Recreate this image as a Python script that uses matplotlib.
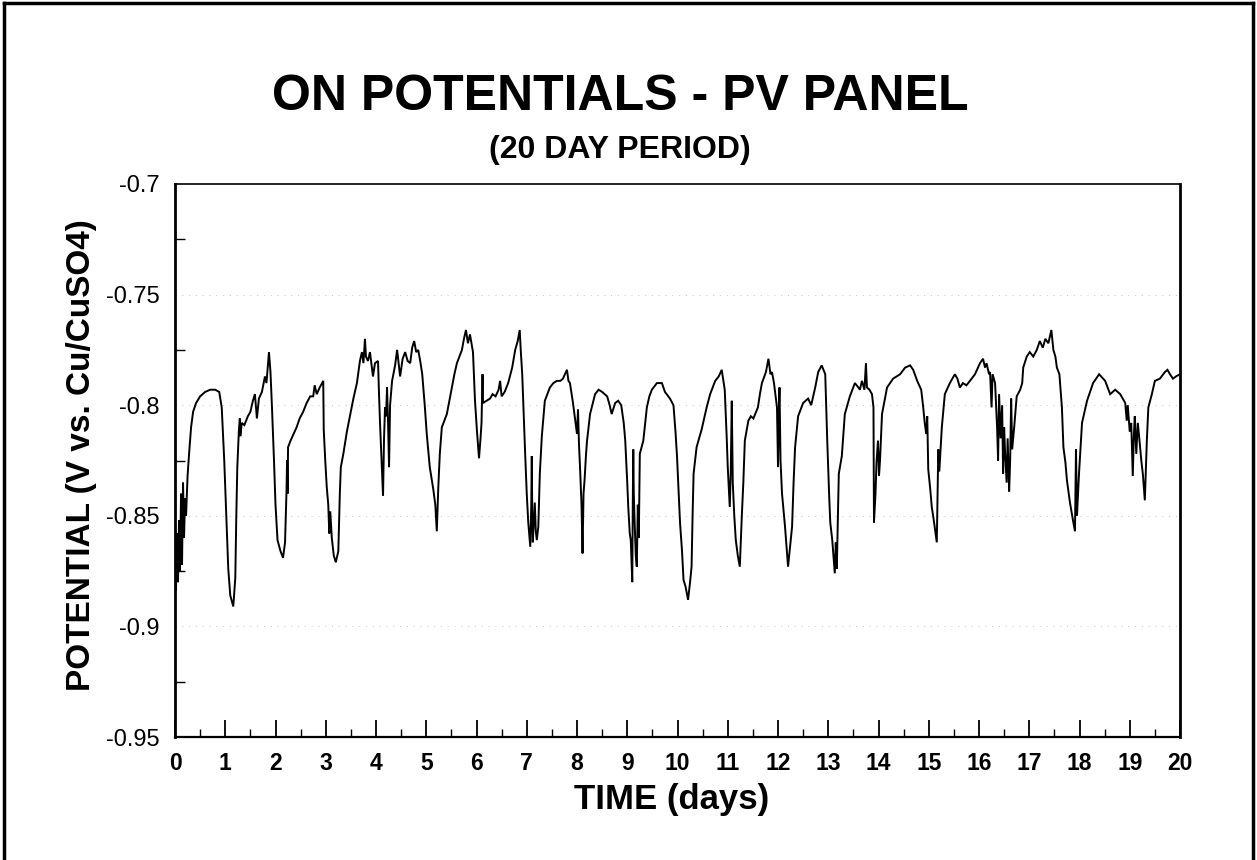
import matplotlib
matplotlib.use("Agg")
import matplotlib.pyplot as plt
from matplotlib.lines import Line2D
from matplotlib.ticker import MultipleLocator, FixedLocator

plt.rcParams['font.family'] = ['Liberation Sans', 'DejaVu Sans']

title = "ON POTENTIALS - PV PANEL"
subtitle = "(20 DAY PERIOD)"
xlabel = "TIME (days)"
ylabel = "POTENTIAL (V vs. Cu/CuSO4)"

x_ticks = list(range(0, 21))
y_ticks = [-0.95, -0.9, -0.85, -0.8, -0.75, -0.7]
y_tick_labels = ["-0.95", "-0.9", "-0.85", "-0.8", "-0.75", "-0.7"]

days = [
    0.00, 0.02, 0.04, 0.06, 0.08, 0.10, 0.12, 0.14, 0.16, 0.18, 0.20, 0.22, 0.25, 0.28, 0.32, 0.36, 0.42, 0.50,
    0.60, 0.70, 0.80, 0.88, 0.93, 0.98, 1.02, 1.06, 1.10, 1.16, 1.20, 1.22, 1.24, 1.27, 1.29, 1.30, 1.33, 1.38,
    1.45, 1.50, 1.55, 1.59, 1.63, 1.67, 1.73, 1.79, 1.82, 1.87, 1.90, 1.93, 1.97, 2.00, 2.04, 2.10, 2.15, 2.19,
    2.21, 2.22, 2.23, 2.24, 2.25, 2.30, 2.36, 2.42, 2.48, 2.55, 2.62, 2.69, 2.75, 2.78, 2.82, 2.88, 2.95, 2.96,
    2.99, 3.02, 3.05, 3.07, 3.09, 3.12, 3.16, 3.20, 3.25, 3.28, 3.30, 3.35, 3.42, 3.48, 3.55, 3.62, 3.68, 3.72,
    3.75, 3.78, 3.80, 3.84, 3.88, 3.94, 3.98, 4.04, 4.06, 4.08, 4.11, 4.14, 4.16, 4.18, 4.20, 4.22, 4.24, 4.26,
    4.28, 4.32, 4.38, 4.42, 4.46, 4.48, 4.53, 4.58, 4.63, 4.68, 4.72, 4.76, 4.80, 4.84, 4.88, 4.92, 4.97, 5.01,
    5.07, 5.14, 5.18, 5.21, 5.24, 5.27, 5.31, 5.36, 5.41, 5.46, 5.51, 5.56, 5.61, 5.66, 5.71, 5.75, 5.79, 5.83,
    5.87, 5.93, 5.97, 6.01, 6.05, 6.08, 6.10, 6.12, 6.13, 6.20, 6.27, 6.32, 6.38, 6.44, 6.47, 6.50, 6.56, 6.63,
    6.71, 6.77, 6.82, 6.86, 6.88, 6.91, 6.94, 6.97, 7.00, 7.03, 7.07, 7.09, 7.10, 7.11, 7.12, 7.16, 7.18, 7.20,
    7.23, 7.26, 7.30, 7.36, 7.46, 7.53, 7.60, 7.67, 7.72, 7.80, 7.83, 7.86, 7.92, 7.97, 8.00, 8.02, 8.04, 8.06,
    8.09, 8.11, 8.13, 8.15, 8.18, 8.20, 8.26, 8.36, 8.43, 8.50, 8.60, 8.65, 8.69, 8.76, 8.82, 8.88, 8.93, 8.96,
    9.00, 9.02, 9.05, 9.07, 9.10, 9.11, 9.12, 9.13, 9.15, 9.17, 9.19, 9.21, 9.23, 9.25, 9.32, 9.39, 9.44, 9.49,
    9.59, 9.69, 9.75, 9.85, 9.92, 9.96, 9.99, 10.05, 10.09, 10.12, 10.16, 10.21, 10.25, 10.28, 10.30, 10.32,
    10.38, 10.48, 10.58, 10.65, 10.70, 10.75, 10.82, 10.88, 10.94, 10.98, 11.00, 11.04, 11.06, 11.08, 11.10,
    11.13, 11.16, 11.20, 11.24, 11.28, 11.31, 11.34, 11.41, 11.46, 11.51, 11.60, 11.64, 11.68, 11.76, 11.81,
    11.85, 11.88, 11.92, 11.98, 12.00, 12.02, 12.03, 12.05, 12.08, 12.14, 12.20, 12.25, 12.28, 12.31, 12.34,
    12.40, 12.50, 12.60, 12.66, 12.74, 12.80, 12.87, 12.94, 12.98, 13.02, 13.04, 13.08, 13.13, 13.15, 13.17,
    13.21, 13.27, 13.33, 13.43, 13.53, 13.60, 13.63, 13.67, 13.72, 13.75, 13.77, 13.82, 13.87, 13.90, 13.91,
    13.94, 13.96, 13.99, 14.01, 14.03, 14.07, 14.17, 14.29, 14.43, 14.53, 14.63, 14.69, 14.77, 14.85, 14.89,
    14.92, 14.95, 14.97, 14.99, 15.03, 15.06, 15.10, 15.16, 15.19, 15.21, 15.26, 15.32, 15.42, 15.52, 15.57,
    15.62, 15.68, 15.75, 15.82, 15.92, 16.02, 16.08, 16.12, 16.15, 16.20, 16.22, 16.25, 16.27, 16.32, 16.36,
    16.38, 16.40, 16.43, 16.46, 16.48, 16.50, 16.52, 16.55, 16.57, 16.60, 16.62, 16.64, 16.66, 16.70, 16.75,
    16.82, 16.86, 16.88, 16.95, 17.01, 17.08, 17.15, 17.21, 17.27, 17.32, 17.38, 17.44, 17.48, 17.52, 17.55,
    17.60, 17.65, 17.68, 17.72, 17.75, 17.81, 17.87, 17.91, 17.93, 17.95, 17.97, 17.99, 18.03, 18.05, 18.15,
    18.27, 18.39, 18.51, 18.61, 18.71, 18.81, 18.91, 18.94, 18.96, 19.00, 19.03, 19.06, 19.08, 19.10, 19.13,
    19.16, 19.19, 19.23, 19.26, 19.30, 19.34, 19.37, 19.44, 19.50, 19.60, 19.70, 19.75, 19.80, 19.86, 19.92,
    20.00,
]

potential = [
    -0.862, -0.884, -0.858, -0.880, -0.852, -0.875, -0.840, -0.872, -0.835, -0.860, -0.842, -0.850, -0.832, -0.822, -0.810, -0.803, -0.799, -0.796,
    -0.794, -0.793, -0.793, -0.794, -0.801, -0.825, -0.850, -0.874, -0.886, -0.891, -0.878, -0.850, -0.828, -0.812, -0.806, -0.814, -0.808, -0.809,
    -0.805, -0.803, -0.798, -0.795, -0.806, -0.797, -0.794, -0.787, -0.790, -0.776, -0.785, -0.801, -0.825, -0.845, -0.861, -0.866, -0.869, -0.862,
    -0.845, -0.838, -0.825, -0.840, -0.819, -0.816, -0.813, -0.810, -0.806, -0.803, -0.799, -0.796, -0.796, -0.791, -0.795, -0.792, -0.789, -0.811,
    -0.825, -0.837, -0.845, -0.858, -0.848, -0.860, -0.868, -0.871, -0.866, -0.840, -0.828, -0.822, -0.812, -0.805, -0.797, -0.790, -0.780, -0.776,
    -0.781, -0.770, -0.778, -0.780, -0.776, -0.787, -0.781, -0.780, -0.795, -0.808, -0.825, -0.841, -0.815, -0.801, -0.805, -0.792, -0.808, -0.828,
    -0.800, -0.789, -0.782, -0.775, -0.783, -0.787, -0.779, -0.776, -0.780, -0.781, -0.774, -0.771, -0.776, -0.775, -0.780, -0.786, -0.800, -0.813,
    -0.828, -0.838, -0.845, -0.857, -0.837, -0.822, -0.810, -0.807, -0.804, -0.798, -0.792, -0.786, -0.781, -0.778, -0.775, -0.770, -0.766, -0.772,
    -0.768, -0.776, -0.798, -0.812, -0.824, -0.815, -0.808, -0.786, -0.799, -0.798, -0.797, -0.795, -0.796, -0.793, -0.789, -0.796, -0.794, -0.790,
    -0.783, -0.775, -0.771, -0.766, -0.775, -0.786, -0.805, -0.823, -0.840, -0.853, -0.864, -0.845, -0.823, -0.850, -0.862, -0.844, -0.857, -0.861,
    -0.855, -0.831, -0.814, -0.798, -0.792, -0.790, -0.789, -0.789, -0.788, -0.784, -0.789, -0.790, -0.799, -0.808, -0.813, -0.802, -0.818, -0.828,
    -0.845, -0.867, -0.840, -0.834, -0.822, -0.816, -0.804, -0.795, -0.793, -0.794, -0.796, -0.800, -0.804, -0.799, -0.798, -0.800, -0.808, -0.816,
    -0.835, -0.846, -0.858, -0.861, -0.880, -0.845, -0.820, -0.840, -0.855, -0.868, -0.873, -0.845, -0.860, -0.822, -0.816, -0.801, -0.796, -0.793,
    -0.790, -0.790, -0.794, -0.797, -0.800, -0.812, -0.823, -0.853, -0.866, -0.879, -0.882, -0.888, -0.880, -0.873, -0.850, -0.831,
    -0.819, -0.811, -0.801, -0.795, -0.792, -0.789, -0.787, -0.784, -0.793, -0.815, -0.828, -0.846, -0.830, -0.798, -0.835,
    -0.850, -0.861, -0.868, -0.873, -0.850, -0.835, -0.816, -0.807, -0.805, -0.806, -0.801, -0.795, -0.790, -0.785, -0.779,
    -0.786, -0.785, -0.790, -0.801, -0.828, -0.800, -0.792, -0.825, -0.840, -0.855, -0.873, -0.862, -0.855, -0.835, -0.819,
    -0.805, -0.799, -0.797, -0.800, -0.792, -0.785, -0.782, -0.786, -0.816, -0.842, -0.853, -0.861, -0.876, -0.862, -0.874,
    -0.831, -0.823, -0.804, -0.796, -0.790, -0.792, -0.793, -0.789, -0.793, -0.781, -0.792, -0.793, -0.795, -0.801, -0.853,
    -0.840, -0.826, -0.816, -0.832, -0.825, -0.804, -0.792, -0.788, -0.786, -0.783, -0.782, -0.784, -0.789, -0.793, -0.801,
    -0.808, -0.813, -0.805, -0.829, -0.838, -0.846, -0.852, -0.862, -0.820, -0.830, -0.810, -0.795, -0.790, -0.786, -0.788,
    -0.792, -0.790, -0.791, -0.789, -0.786, -0.781, -0.779, -0.783, -0.781, -0.786, -0.785, -0.801, -0.786, -0.790, -0.810,
    -0.825, -0.795, -0.815, -0.800, -0.831, -0.810, -0.822, -0.835, -0.815, -0.839, -0.825, -0.797, -0.820, -0.810, -0.796,
    -0.793, -0.790, -0.783, -0.778, -0.776, -0.778, -0.775, -0.771, -0.774, -0.770, -0.772, -0.766, -0.775, -0.778, -0.783,
    -0.786, -0.801, -0.819, -0.826, -0.834, -0.844, -0.852, -0.857, -0.820, -0.850, -0.840, -0.831, -0.816, -0.808, -0.798,
    -0.790, -0.786, -0.789, -0.795, -0.793, -0.795, -0.799, -0.807, -0.800, -0.812, -0.808, -0.832, -0.815, -0.805, -0.822,
    -0.808, -0.815, -0.825, -0.831, -0.843, -0.816, -0.801, -0.795, -0.789, -0.788, -0.785, -0.784, -0.786, -0.788, -0.787,
    -0.786,
]

W, H = 1257, 860
fig = plt.figure(figsize=(W / 100, H / 100), dpi=100)
fig.patch.set_facecolor("white")

# axes placement (pixel box 175..1180 x 184..737)
ax = fig.add_axes([175 / W, 1 - 737 / H, (1180 - 175) / W, (737 - 184) / H])
ax.plot(days, potential, color="black", linewidth=1.4, solid_joinstyle="miter")

ax.set_xlim(0, 20)
ax.set_ylim(-0.95, -0.7)

ax.xaxis.set_major_locator(FixedLocator(x_ticks))
ax.xaxis.set_minor_locator(MultipleLocator(0.5))
ax.set_xticklabels([str(t) for t in x_ticks])
ax.yaxis.set_major_locator(FixedLocator(y_ticks))
ax.set_yticklabels(y_tick_labels)
ax.yaxis.set_minor_locator(MultipleLocator(0.025))

ax.tick_params(axis="x", which="major", direction="in", length=12, width=1.3,
               labelsize=16.5, pad=11, top=False)
ax.tick_params(axis="x", which="minor", direction="in", length=6, width=1.0, top=False)
ax.tick_params(axis="y", which="major", direction="in", length=0, labelsize=17, pad=11, right=False)
ax.tick_params(axis="y", which="minor", direction="in", length=7, width=1.0, right=False)
for lab in ax.get_xticklabels():
    lab.set_fontweight("bold")

for y in y_ticks[1:-1]:
    ax.axhline(y, color="#c8c8c8", linewidth=0.7, linestyle=(0, (1, 6)), zorder=0)

ax.spines["left"].set_linewidth(2.0)
ax.spines["bottom"].set_linewidth(1.6)
ax.spines["top"].set_linewidth(1.2)
ax.spines["right"].set_linewidth(2.0)

fig.text(672 / W, 1 - 800 / H, xlabel, ha="center", va="center", fontsize=25, fontweight="bold")
fig.text(82 / W, 1 - 455 / H, ylabel, ha="center", va="center", rotation=90,
         fontsize=24, fontweight="bold")

fig.text(620 / W, 1 - 97 / H, title, ha="center", va="center", fontsize=36, fontweight="bold")
fig.text(620 / W, 1 - 150 / H, subtitle, ha="center", va="center", fontsize=23, fontweight="bold")

# figure border
for (x0, y0, x1, y1) in [(4, 3, 1253, 3), (4, 3, 4, 860), (1253, 3, 1253, 860)]:
    fig.add_artist(Line2D([x0 / W, x1 / W], [1 - y0 / H, 1 - y1 / H],
                          transform=fig.transFigure, color="black", linewidth=2.5))

fig.savefig("out.png", dpi=100)
